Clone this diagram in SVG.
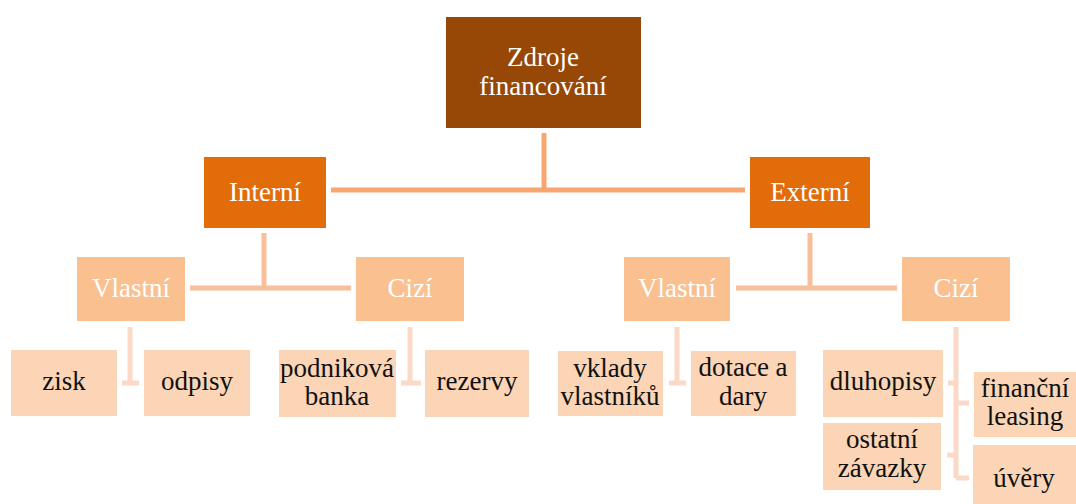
<svg xmlns="http://www.w3.org/2000/svg" width="1076" height="504" viewBox="0 0 1076 504">
<style>
text{font-family:"Liberation Serif","Times New Roman",serif;font-size:27px;text-anchor:middle}
.l0{fill:#974706}.l1{fill:#E36C0A}.l2{fill:#FAC090}.l3{fill:#FBD5B5}
.w{fill:#FFFFFF}.d{fill:#111111}
.c1{stroke:#F8A56F;stroke-width:5;fill:none}
.c2{stroke:#F9BE9A;stroke-width:5;fill:none}
.c3{stroke:#FCD9C7;stroke-width:5;fill:none}
</style>
<rect width="1076" height="504" fill="#FFFFFF"/>
<g id="connectors">
<path class="c1" d="M544 133V190M331 190H745"/>
<path class="c2" d="M264 233V288M190 288H351"/>
<path class="c2" d="M810 233V288M736 288H897"/>
<path class="c3" d="M130 327V383M122 383H139"/>
<path class="c3" d="M410 327V383M401 383H421"/>
<path class="c3" d="M677 327V383M669 383H686"/>
<path class="c3" d="M956 327V478M948 383H956M956 403H969M947 455H956M956 478H969"/>
</g>
<g id="n-root"><rect class="l0" x="446" y="17" width="195" height="111"/><text class="w" x="543" y="66">Zdroje</text><text class="w" x="543" y="95">financování</text></g>
<g id="n-interni"><rect class="l1" x="204" y="157" width="122" height="71"/><text class="w" x="265" y="201">Interní</text></g>
<g id="n-externi"><rect class="l1" x="750" y="157" width="120" height="71"/><text class="w" x="810" y="201">Externí</text></g>
<g id="n-int-vlastni"><rect class="l2" x="77" y="257" width="108" height="64"/><text class="w" x="131" y="297">Vlastní</text></g>
<g id="n-int-cizi"><rect class="l2" x="356" y="257" width="108" height="64"/><text class="w" x="410" y="297">Cizí</text></g>
<g id="n-ext-vlastni"><rect class="l2" x="624" y="257" width="106" height="64"/><text class="w" x="677" y="297">Vlastní</text></g>
<g id="n-ext-cizi"><rect class="l2" x="902" y="257" width="108" height="64"/><text class="w" x="956" y="297">Cizí</text></g>
<g id="n-zisk"><rect class="l3" x="11" y="350" width="106" height="66"/><text class="d" x="64" y="390">zisk</text></g>
<g id="n-odpisy"><rect class="l3" x="144" y="350" width="106" height="66"/><text class="d" x="197" y="390">odpisy</text></g>
<g id="n-banka"><rect class="l3" x="279" y="350" width="117" height="67"/><text class="d" x="337" y="377">podniková</text><text class="d" x="337" y="405">banka</text></g>
<g id="n-rezervy"><rect class="l3" x="425" y="350" width="104" height="67"/><text class="d" x="477" y="390">rezervy</text></g>
<g id="n-vklady"><rect class="l3" x="558" y="351" width="105" height="65"/><text class="d" x="610" y="377">vklady</text><text class="d" x="610" y="405">vlastníků</text></g>
<g id="n-dotace"><rect class="l3" x="691" y="351" width="105" height="65"/><text class="d" x="743" y="376">dotace a</text><text class="d" x="743" y="405">dary</text></g>
<g id="n-dluhopisy"><rect class="l3" x="823" y="350" width="120" height="67"/><text class="d" x="883" y="390">dluhopisy</text></g>
<g id="n-ostatni"><rect class="l3" x="823" y="423" width="118" height="67"/><text class="d" x="882" y="448">ostatní</text><text class="d" x="882" y="477">závazky</text></g>
<g id="n-leasing"><rect class="l3" x="974" y="372" width="102" height="65"/><text class="d" x="1025" y="397">finanční</text><text class="d" x="1025" y="425">leasing</text></g>
<g id="n-uvery"><rect class="l3" x="973" y="445" width="103" height="59"/><text class="d" x="1024" y="487">úvěry</text></g>
</svg>
